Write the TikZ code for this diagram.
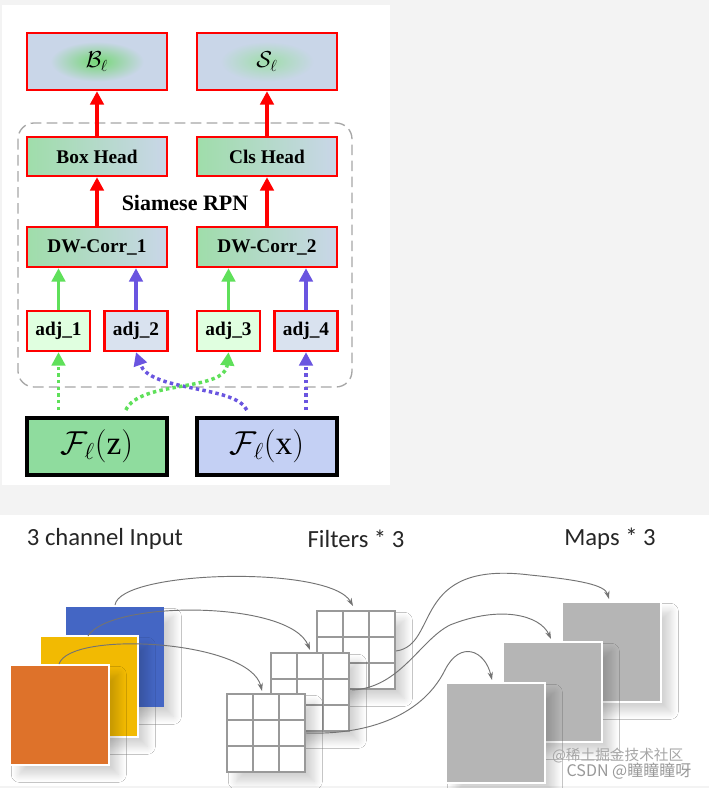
\documentclass[tikz,border=0pt]{standalone}
\usepackage{fontspec}
\setmainfont{Liberation Serif}
\newfontfamily\calib{Carlito}
\newfontfamily\cjk{Noto Sans CJK SC}
\usetikzlibrary{arrows.meta,calc,shadows.blur}
\definecolor{bgc}{HTML}{F3F3F3}
\definecolor{bx}{HTML}{C9D6E8}
\definecolor{gx}{HTML}{9FDDAA}
\definecolor{ga}{HTML}{5FE05A}
\definecolor{ba}{HTML}{6A55E0}
\definecolor{fzc}{HTML}{8FDC9E}
\definecolor{fxc}{HTML}{C4D0F4}
\definecolor{mapc}{HTML}{B5B5B5}
\tikzset{
 box/.style={draw=red,line width=1.8pt,left color=gx,right color=bx,inner sep=0pt,font=\bfseries\fontsize{14.5}{16}\selectfont},
 outb/.style={draw=red,line width=1.8pt,fill=bx,minimum width=105pt,minimum height=42.75pt,inner sep=0pt},
 fbox/.style={draw=black,line width=3pt,minimum width=105pt,minimum height=42.75pt,inner sep=0pt,font=\fontsize{25}{28}\selectfont},
 red arr/.style={draw=red,line width=3pt,-{Triangle[length=10pt,width=10pt]}},
 g arr/.style={draw=ga,line width=2.6pt,-{Triangle[length=10pt,width=10pt]}},
 b arr/.style={draw=ba,line width=2.6pt,-{Triangle[length=10pt,width=10pt]}},
 gd/.style={g arr,dash pattern=on 2.6pt off 2.4pt},
 bd/.style={b arr,dash pattern=on 2.6pt off 2.4pt},
 gl/.style={draw=gray!80,line width=0.8pt},
 curv/.style={draw=gray!90!black,line width=0.7pt,-{Stealth[length=6pt,width=4pt]}},
 lab/.style={font=\calib\fontsize{18.5}{21}\selectfont,text=black!85},
 sh/.style={blur shadow={shadow xshift=7pt,shadow yshift=-7pt,shadow blur steps=8,shadow blur radius=6pt,shadow opacity=18}}
}
\begin{document}
\begin{tikzpicture}[x=0.75pt,y=-0.75pt]
\useasboundingbox (0,0) rectangle (709,788);
\fill[bgc] (0,0) rectangle (709,788);
\fill[white] (2,5) rectangle (390,485);
\fill[white] (0,515) rectangle (709,786);
% top panel
\draw[gray!70,line width=1pt,rounded corners=12pt,dash pattern=on 8pt off 4pt] (18,123) rectangle (352,387);
\node[outb] (bl) at (97,61.5) {};
\node[inner sep=0pt,minimum width=70pt,minimum height=30pt,inner color=green!55!gray!70,outer color=bx,draw=none] at (97,61.5) {};
\node at (97,61.5) {\LARGE$\mathcal{B}_\ell$};
\node[outb] (sl) at (267,61.5) {};
\node[inner sep=0pt,minimum width=70pt,minimum height=30pt,inner color=gx,outer color=bx,draw=none] at (267,61.5) {};
\node at (267,61.5) {\LARGE$\mathcal{S}_\ell$};
\node[box,minimum width=105pt,minimum height=29.25pt] (bh) at (97,156.5) {Box Head};
\node[box,minimum width=105pt,minimum height=29.25pt] (ch) at (267,156.5) {Cls Head};
\node[font=\bfseries\fontsize{16.5}{18}\selectfont] (srpn) at (185,203) {Siamese RPN};
\node[box,minimum width=105pt,minimum height=30pt] (dw1) at (97,247) {DW-Corr\_1};
\node[box,minimum width=105pt,minimum height=30pt] (dw2) at (267,247) {DW-Corr\_2};
\node[box,left color=green!12,right color=green!12,minimum width=47.25pt,minimum height=30pt] (a1) at (58.5,331) {adj\_1};
\node[box,left color=bx!70,right color=bx!70,minimum width=47.25pt,minimum height=30pt] (a2) at (136,331) {adj\_2};
\node[box,left color=green!12,right color=green!12,minimum width=47.25pt,minimum height=30pt] (a3) at (228.5,331) {adj\_3};
\node[box,left color=bx!70,right color=bx!70,minimum width=47.25pt,minimum height=30pt] (a4) at (306,331) {adj\_4};
\node[fbox,fill=fzc] (fz) at (97,446.5) {$\mathcal{F}_\ell(\mathrm{z})$};
\node[fbox,fill=fxc] (fx) at (267,446.5) {$\mathcal{F}_\ell(\mathrm{x})$};
\draw[red arr] (bh.north) -- (bl.south);
\draw[red arr] (ch.north) -- (sl.south);
\draw[red arr] (dw1.north) -- (bh.south);
\draw[red arr] (dw2.north) -- (ch.south);
\draw[g arr] (a1.north) -- (a1.north |- dw1.south);
\draw[b arr] (a2.north) -- (a2.north |- dw1.south);
\draw[g arr] (a3.north) -- (a3.north |- dw2.south);
\draw[b arr] (a4.north) -- (a4.north |- dw2.south);
\draw[gd] (a1.south |- fz.north) ++(0,-6) -- (a1.south);
\draw[bd] (a4.south |- fx.north) ++(0,-6) -- (a4.south);
\draw[bd] ($(fx.north west)!0.36!(fx.north east)+(0,-6)$) .. controls (235,385) and (150,392) .. (a2.south);
\draw[gd] ($(fz.north west)!0.7!(fz.north east)+(0,-6)$) .. controls (140,380) and (225,392) .. (a3.south);
% bottom panel
\node[lab] (t1) at (105,539) {3 channel Input};
\node[lab] (t2) at (356,539) {Filters * 3};
\node[lab] (t3) at (610,539) {Maps * 3};
\fill[sh,fill={rgb,255:red,68;green,102;blue,196}] (66,607) rectangle (164,707);
\fill[sh,fill={rgb,255:red,242;green,186;blue,2},draw=white,line width=1pt] (40,636) rectangle (138,737);
\fill[sh,fill={rgb,255:red,222;green,114;blue,42},draw=white,line width=1pt] (10,665) rectangle (109,765);
\foreach \x/\y in {317/611,271/653,227/694}{
  \fill[sh,white] (\x,\y) rectangle ++(78,78);
  \foreach \k in {26,52}{
    \draw[gl] (\x+\k,\y) -- (\x+\k,\y+78);
    \draw[gl] (\x,\y+\k) -- (\x+78,\y+\k);
  }
  \draw[gl] (\x,\y) rectangle ++(78,78);
}
\foreach \x/\y in {562/602,503/642,446/683}{
  \fill[sh,fill=mapc,draw=white,line width=1.2pt] (\x,\y) rectangle ++(99,100);
}
\draw[curv] (115,605) .. controls (120,570) and (330,565) .. (353,606);
\draw[curv] (88,636) .. controls (110,600) and (290,600) .. (310,650);
\draw[curv] (59,664) .. controls (70,630) and (250,640) .. (262,691);
\draw[curv] (396,651) .. controls (440,645) and (410,560) .. (530,575) .. controls (580,580) and (605,585) .. (609,599);
\draw[curv] (352,690) .. controls (400,688) and (420,640) .. (450,625) .. controls (500,605) and (540,615) .. (551,639);
\draw[curv] (306,733) .. controls (360,735) and (420,720) .. (445,670) .. controls (460,640) and (485,650) .. (492,680);
\node[font=\cjk\fontsize{11}{12}\selectfont,text=gray!70,anchor=east] (w1) at (688,756) {@稀土掘金技术社区};
\node[font=\cjk\fontsize{12}{13}\selectfont,text=gray!80,anchor=east] (w2) at (696,771) {CSDN @瞳瞳瞳呀};
\end{tikzpicture}
\end{document}
